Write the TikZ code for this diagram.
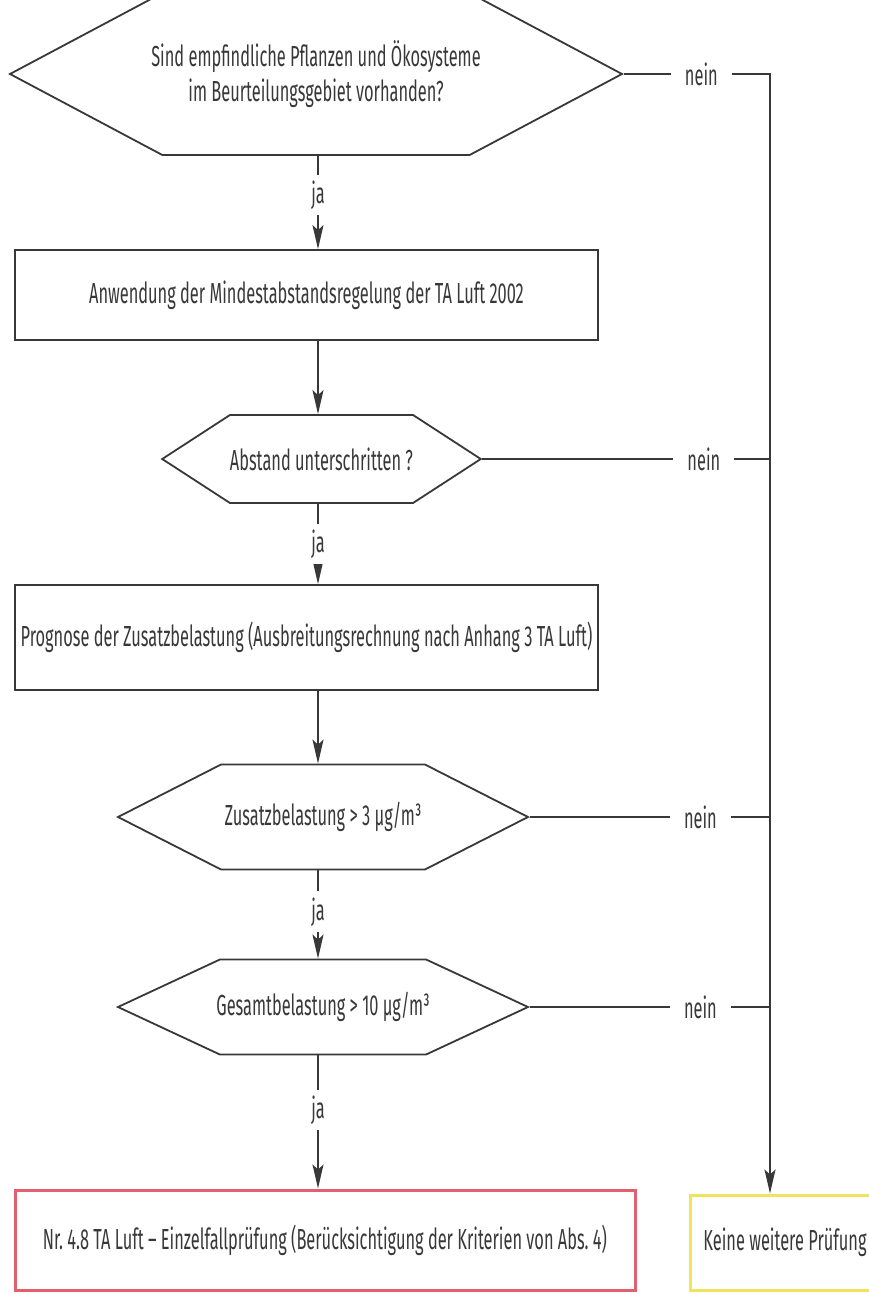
\documentclass[tikz,border=0pt]{standalone}
\usepackage{fontspec}
\setmainfont{Fira Sans}[FakeStretch=0.565]
\usepackage{tikz}
\usetikzlibrary{arrows.meta}
\usetikzlibrary{shapes.symbols}
\definecolor{ink}{HTML}{383838}
\definecolor{redframe}{HTML}{E2606E}
\definecolor{yellowframe}{HTML}{F2E45A}

\begin{document}
\begin{tikzpicture}[x=1pt, y=-1pt, line width=1.8pt, color=ink,
        font=\fontsize{29}{35}\selectfont,
        >={Stealth[length=24pt, width=11pt, inset=5pt]},
        hexa/.style={draw, signal, signal to=east and west, inner sep=0pt, align=center},
        box/.style={draw, rectangle, inner sep=0pt},
        answer/.style={fill=white, inner xsep=14pt, inner ysep=6pt}]
            \useasboundingbox (0, 0) rectangle (869, 1294);
            \coordinate (spine) at (318, 0);
            \coordinate (bus) at (770, 0);
            \node (q1) [hexa, inner xsep=-12pt, minimum width=612, minimum height=162, signal pointer angle=56] at (316, 74) {Sind empfindliche Pflanzen und Ökosysteme\\im Beurteilungsgebiet vorhanden?};
            \node (b1) [box, minimum width=583, minimum height=90] at (306.5, 295) {Anwendung der Mindestabstandsregelung der TA Luft 2002};
            \node (q2) [hexa, minimum width=293, minimum height=88, signal pointer angle=66] at (321.5, 459) {Abstand unterschritten ?};
            \node (b2) [box, minimum width=583, minimum height=105] at (306.5, 637.5) {Prognose der Zusatzbelastung (Ausbreitungsrechnung nach Anhang 3 TA Luft)};
            \node (q3) [hexa, minimum width=410, minimum height=105, signal pointer angle=54] at (323, 817) {Zusatzbelastung > 3 µg/m³};
            \node (q4) [hexa, inner xsep=-4pt, minimum width=410, minimum height=95, signal pointer angle=50] at (323, 1007) {Gesamtbelastung > 10 µg/m³};
            \node (e) [box, draw=redframe, line width=3pt, minimum width=620, minimum height=100] at (325, 1240) {Nr.~4.8 TA Luft – Einzelfallprüfung (Berücksichtigung der Kriterien von Abs.~4)};
            \node (k) [box, draw=yellowframe, line width=3pt, minimum width=190, minimum height=95] at (785, 1242.5) {Keine weitere Prüfung};
            \draw [->] (spine |- q1.south) -- node [answer, pos=0.42] {ja} (spine |- b1.north);
            \draw [->] (spine |- b1.south) -- (spine |- q2.north);
            \draw [->] (spine |- q2.south) -- node [answer, pos=0.5] {ja} (spine |- b2.north);
            \draw [->] (spine |- b2.south) -- (spine |- q3.north);
            \draw [->] (spine |- q3.south) -- node [answer, pos=0.47] {ja} (spine |- q4.north);
            \draw [->] (spine |- q4.south) -- node [answer, pos=0.41] {ja} (spine |- e.north);
            \draw [->] (q1.east) -- node [answer, pos=0.53] {nein} (q1.east -| bus) -- (bus |- k.north);
            \draw (q2.east) -- node [answer, pos=0.77] {nein} (q2.east -| bus);
            \draw (q3.east) -- node [answer, pos=0.71] {nein} (q3.east -| bus);
            \draw (q4.east) -- node [answer, pos=0.71] {nein} (q4.east -| bus);
        \end{tikzpicture}
\end{document}
